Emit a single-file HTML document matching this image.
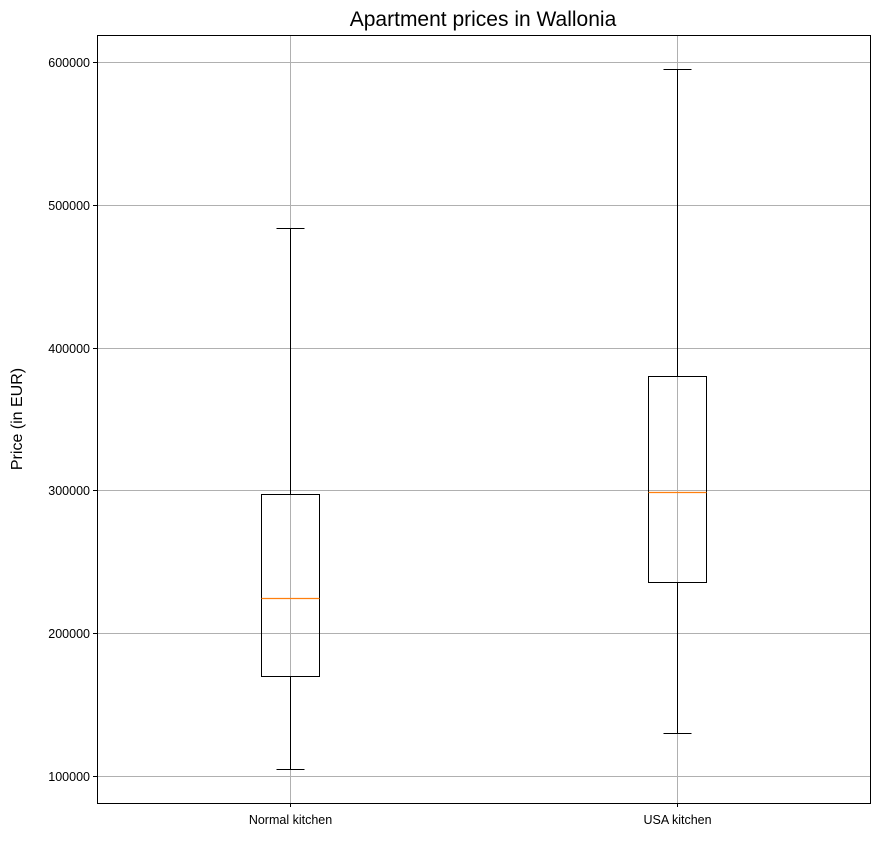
<!DOCTYPE html>
<html><head><meta charset="utf-8"><style>
body{margin:0;background:#fff;font-family:"Liberation Sans",sans-serif}
svg text{font-family:"Liberation Sans","DejaVu Sans",sans-serif}
</style></head><body>
<svg id="chart" width="880" height="863" xmlns="http://www.w3.org/2000/svg">
<rect width="880" height="863" fill="#fff"/>
<text x="483" y="26" font-size="21" text-anchor="middle">Apartment prices in Wallonia</text>
<text x="0" y="0" font-size="16" text-anchor="middle" transform="translate(22,419) rotate(-90)">Price (in EUR)</text>
<g id="grid"></g><g id="boxes"></g><g id="axes"></g>
</svg>
<script>
const categories = ["Normal kitchen", "USA kitchen"];
const whiskerLow = [105000, 130000];
const q1 = [170000, 236000];
const medians = [225000, 299000];
const q3 = [297500, 380000];
const whiskerHigh = [483500, 595000];
const yTicks = [100000, 200000, 300000, 400000, 500000, 600000];

const L=97,R=870,T=35,B=803;
const yMin=81100,yMax=618900;
const ys=v=>Math.round(B-(v-yMin)/(yMax-yMin)*(B-T))+0.5;
const xs=i=>Math.round(L+(i+0.5)/categories.length*(R-L))+0.5;
const NS="http://www.w3.org/2000/svg";
function mk(tag,attrs,parent){const e=document.createElementNS(NS,tag);for(const k in attrs)e.setAttribute(k,attrs[k]);parent.appendChild(e);return e;}
const grid=document.getElementById('grid'),boxes=document.getElementById('boxes'),axes=document.getElementById('axes');
yTicks.forEach(t=>{const y=ys(t);
 const g=mk('line',{x1:L,x2:R,y1:y,y2:y,stroke:'#b0b0b0','stroke-width':1},grid);
 
 
 mk('line',{x1:L-4,x2:L,y1:y,y2:y,stroke:'#000'},axes);
 const tx=mk('text',{x:L-7,y:y+4.5,'font-size':12.5,'text-anchor':'end'},axes);tx.textContent=t;
 
 
});
categories.forEach((c,i)=>{const x=xs(i);
 const g=mk('line',{x1:x,x2:x,y1:T,y2:B,stroke:'#b0b0b0'},grid);
 
 
 mk('line',{x1:x,x2:x,y1:B,y2:B+4,stroke:'#000'},axes);
 const tx=mk('text',{x:x,y:B+21,'font-size':12.5,'text-anchor':'middle'},axes);tx.textContent=c;
 
 
 const grp=mk('g',{},boxes);
 
 
 const hw=29,cw=14;
 mk('line',{x1:x,x2:x,y1:ys(whiskerLow[i]),y2:ys(q1[i]),stroke:'#000'},grp);
 mk('line',{x1:x,x2:x,y1:ys(q3[i]),y2:ys(whiskerHigh[i]),stroke:'#000'},grp);
 mk('line',{x1:x-cw,x2:x+cw,y1:ys(whiskerLow[i]),y2:ys(whiskerLow[i]),stroke:'#000'},grp);
 mk('line',{x1:x-cw,x2:x+cw,y1:ys(whiskerHigh[i]),y2:ys(whiskerHigh[i]),stroke:'#000'},grp);
 mk('rect',{x:x-hw,y:ys(q3[i]),width:2*hw,height:ys(q1[i])-ys(q3[i]),fill:'none',stroke:'#000'},grp);
 mk('line',{x1:x-hw,x2:x+hw,y1:ys(medians[i]),y2:ys(medians[i]),stroke:'#ff7f0e','stroke-width':1.3},grp);
});
const fr=mk('rect',{x:L+0.5,y:T+0.5,width:R-L,height:B-T,fill:'none',stroke:'#000'},axes);


</script>
</body></html>
